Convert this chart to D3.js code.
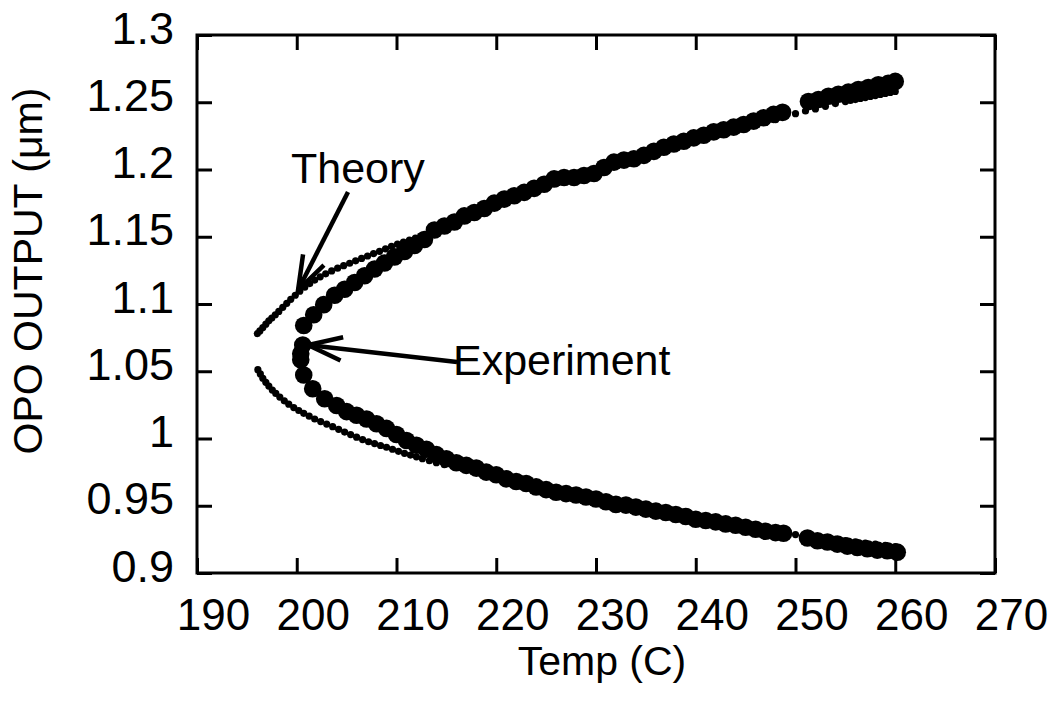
<!DOCTYPE html>
<html><head><meta charset="utf-8">
<script src="https://cdn.jsdelivr.net/npm/d3@7"></script>
<style>
body{margin:0;background:#fff}
svg{display:block;background:#fff}
text{font-family:'Liberation Sans',Arial,Helvetica,sans-serif;fill:#000}
</style>
</head><body>
<svg id="chart" width="1055" height="701"></svg>
<script>
// ---- data ----
const xTicks = [190,200,210,220,230,240,250,260,270];
const yTicks = [0.9,0.95,1,1.05,1.1,1.15,1.2,1.25,1.3];
const yTickLabels = ["0.9","0.95","1","1.05","1.1","1.15","1.2","1.25","1.3"];

// Theory (small dots): [temperature C, wavelength um]
const theoryUpper = [
[196.05,1.078],[196.3,1.080],[196.6,1.0825],[196.9,1.085],[197.2,1.0875],[197.5,1.0895],[197.85,1.092],[198.2,1.0945],
[198.6,1.0975],[199.0,1.1005],[199.4,1.1035],[199.85,1.1065],[200.3,1.1095],[200.8,1.1125],[201.3,1.1152],[201.8,1.1178],
[202.35,1.1202],[202.9,1.1224],[203.5,1.1246],[204.1,1.1266],[204.7,1.1285],[205.3,1.1303],[205.9,1.1321],[206.5,1.1339],
[207.1,1.1357],[207.7,1.1375],[208.3,1.1392],[208.9,1.141],[209.5,1.1428],[210.1,1.1445],[210.7,1.146],[211.3,1.1475],
[211.9,1.149],[212.5,1.1505],[213.1,1.152],[213.8,1.154],[214.5,1.1565],[215.2,1.159],[216,1.161],[217,1.164],[218,1.167],
[219,1.170],[220,1.173],[221,1.176],[222,1.179],[223,1.182],[224,1.1845],[225,1.187],[226,1.1895],[227,1.192],[228,1.1945],
[229,1.197],[230,1.1995],[231,1.202],[232,1.204],[233,1.206],[234,1.2085],[235,1.211],[236,1.213],[237,1.215],[238,1.217],
[239,1.219],[240,1.221],[241,1.223],[242,1.225],[243,1.227],[244,1.229],[245,1.231],[246,1.233],[247,1.235],[248,1.237],
[249,1.2395],[250,1.2415],[251,1.2435],[252,1.245],[253,1.247],[254,1.249],[255,1.2505],[255.5,1.2513],[256,1.252],
[256.5,1.2528],[257,1.2535],[257.5,1.2543],[258,1.255],[258.5,1.2558],[259,1.2565],[259.5,1.2573],[260,1.258]
];
const theoryLower = [
[196.1,1.0512],[196.35,1.048],[196.6,1.0448],[196.9,1.0418],[197.2,1.039],[197.55,1.036],[197.9,1.0335],[198.3,1.0308],
[198.75,1.028],[199.2,1.0255],[199.7,1.023],[200.2,1.0208],[200.7,1.0187],[201.25,1.0166],[201.8,1.0145],[202.4,1.0126],
[203.0,1.0107],[203.6,1.0088],[204.2,1.0068],[204.8,1.0048],[205.4,1.0029],[206.0,1.001],[206.6,0.9992],[207.2,0.9976],
[207.8,0.9962],[208.4,0.9948],[209.0,0.9935],[209.6,0.992],[210.2,0.9905],[210.8,0.989],[211.4,0.9877],[212.0,0.9864],
[212.6,0.985],[213.3,0.9835],[214.0,0.982],[214.8,0.9805],[216,0.979],[217,0.977],[218,0.975],[219,0.9728],[220,0.9707],
[221,0.9687],[222,0.9667],[223,0.9647],[224,0.9628],[225,0.961],[226,0.9592],[227,0.9575],[228,0.9558],[229,0.9542],
[230,0.9526],[231,0.951],[232,0.9495],[233,0.948],[234,0.9466],[235,0.9452],[236,0.9438],[237,0.9425],[238,0.9412],
[239,0.940],[240,0.9388],[241,0.9376],[242,0.9365],[243,0.9354],[244,0.9343],[245,0.9333],[246,0.9323],[247,0.9313],
[248,0.9304],[249,0.9295],[250,0.9286],[251,0.9277],[252,0.9268],[253,0.9259],[254,0.925],[255,0.9241],[256,0.9232],
[257,0.9223],[258,0.9214],[259,0.9205],[260,0.9197]
];

// Experiment (large dots): [temperature C, wavelength um]
const experimentUpper = [
[200.7,1.084],[201.7,1.092],[202.7,1.0995],[203.8,1.1065],[204.8,1.111],[205.8,1.116],[206.8,1.121],[207.8,1.126],
[208.8,1.1305],[209.8,1.135],[210.8,1.139],[211.8,1.1435],[212.8,1.148],[213.8,1.155],[214.8,1.158],[215.8,1.161],
[216.8,1.1655],[217.8,1.168],[218.8,1.171],[219.8,1.175],[220.8,1.178],[221.8,1.1805],[222.8,1.183],[223.8,1.186],
[224.8,1.189],[225.8,1.193],[226.8,1.194],[227.8,1.194],[228.8,1.1955],[229.8,1.197],[230.8,1.2015],[231.8,1.2055],
[232.8,1.207],[233.8,1.208],[234.8,1.2105],[235.8,1.2135],[236.8,1.2165],[237.8,1.219],[238.8,1.221],[239.8,1.2235],
[240.8,1.2255],[241.8,1.228],[242.8,1.2295],[243.8,1.2315],[244.8,1.2335],[245.8,1.236],[246.8,1.2385],[247.8,1.241],
[248.7,1.2425],[251.3,1.2505],[252.3,1.252],[253.3,1.2545],[254.3,1.256],[255.3,1.2575],[256.3,1.2595],[257.3,1.261],
[258.3,1.263],[259.3,1.264],[260.0,1.2655]
];
const experimentLower = [
[200.6,1.0695],[200.4,1.063],[200.4,1.0585],[200.7,1.0472],[201.6,1.037],[202.8,1.0296],[204.0,1.0245],[205.0,1.020],
[206.0,1.0173],[207.0,1.0145],[208.0,1.011],[209.0,1.0075],[210.0,1.003],[211.0,0.9985],[212.0,0.995],[213.0,0.992],
[214.0,0.988],[215.0,0.985],[216.0,0.982],[217.0,0.980],[218.0,0.978],[219.0,0.975],[220.0,0.973],[221.0,0.970],
[222.0,0.968],[223.0,0.9665],[224.0,0.964],[225.0,0.962],[226.0,0.960],[227.0,0.959],[228.0,0.958],[229.0,0.9565],
[230.0,0.955],[231.0,0.953],[232.0,0.951],[233.0,0.9505],[234.0,0.949],[235.0,0.9475],[236.0,0.946],[237.0,0.945],
[238.0,0.9435],[239.0,0.942],[240.0,0.940],[241.0,0.939],[242.0,0.938],[243.0,0.9365],[244.0,0.9355],[245.0,0.934],
[246.0,0.9325],[247.0,0.931],[248.0,0.930],[248.8,0.9295],[251.2,0.926],[252.2,0.924],[253.2,0.923],[254.2,0.9215],
[255.2,0.920],[256.2,0.919],[257.2,0.918],[258.2,0.917],[259.2,0.9165],[260.2,0.9155]
];

// annotations (data coordinates)
const theoryNote = {text:"Theory", at:[199.42,1.190], tail:[205.14,1.1833], tip:[200.13,1.1104]};
const experimentNote = {text:"Experiment", at:[215.66,1.0472], tail:[216.07,1.0569], tip:[201.13,1.0695]};

// ---- chart ----
const svg = d3.select("#chart");
const x = d3.scaleLinear().domain([190,270]).range([197,995]);
const y = d3.scaleLinear().domain([0.9,1.3]).range([573,35]);
const FONT = "'Liberation Sans',Arial,Helvetica,sans-serif";

// data
const plot = svg.append("g");
plot.selectAll("circle.theory").data(theoryUpper.concat(theoryLower)).join("circle")
  .attr("class","theory").attr("cx",d=>x(d[0])).attr("cy",d=>y(d[1])).attr("r",3.6).attr("fill","#000");
plot.selectAll("circle.exp").data(experimentUpper.concat(experimentLower)).join("circle")
  .attr("class","exp").attr("cx",d=>x(d[0])).attr("cy",d=>y(d[1])).attr("r",8.8).attr("fill","#000");

// axes
function styleAxis(g){
  g.attr("font-family",null).attr("font-size",null);
  g.select(".domain").remove();
  g.selectAll(".tick line").attr("stroke","#000").attr("stroke-width",3);
}
const gb = svg.append("g").attr("transform","translate(0,573)")
  .call(d3.axisBottom(x).tickValues(xTicks).tickSizeInner(-15).tickSizeOuter(0).tickFormat(d3.format("d")));
styleAxis(gb);
gb.selectAll("text").attr("y",57).attr("dy",null).attr("x",16)
  .style("font-size","44px").style("font-family",FONT).attr("fill","#000");

const gl = svg.append("g").attr("transform","translate(197,0)")
  .call(d3.axisLeft(y).tickValues(yTicks).tickSizeInner(-15).tickSizeOuter(0).tickFormat((d,i)=>yTickLabels[i]));
styleAxis(gl);
gl.selectAll("text").attr("x",-23).attr("y",8).attr("dy",null).attr("text-anchor","end")
  .style("font-size","45px").style("font-family",FONT).attr("fill","#000");

const gt = svg.append("g").attr("transform","translate(0,35)")
  .call(d3.axisTop(x).tickValues(xTicks).tickSizeInner(-15).tickSizeOuter(0).tickFormat(""));
styleAxis(gt);
const gr = svg.append("g").attr("transform","translate(995,0)")
  .call(d3.axisRight(y).tickValues(yTicks).tickSizeInner(-15).tickSizeOuter(0).tickFormat(""));
styleAxis(gr);

svg.append("rect").attr("x",x(190)).attr("y",y(1.3)).attr("width",x(270)-x(190)).attr("height",y(0.9)-y(1.3))
  .attr("fill","none").attr("stroke","#000").attr("stroke-width",3);

// titles
svg.append("text").attr("x",(x(190)+x(270))/2+6).attr("y",675).attr("text-anchor","middle")
  .style("font-size","41px").style("font-family",FONT).text("Temp (C)");
svg.append("text").attr("transform","translate(42,271) rotate(-90)").attr("text-anchor","middle")
  .style("font-size","41px").style("font-family",FONT).text("OPO OUTPUT (\u03bcm)");

// annotations
function arrow(note){
  const tx=x(note.tip[0]), ty=y(note.tip[1]), sx=x(note.tail[0]), sy=y(note.tail[1]);
  const a=Math.atan2(sy-ty, sx-tx), L=36, h=19*Math.PI/180;
  const g=svg.append("g").attr("stroke","#000").attr("stroke-width",4.5).attr("stroke-linecap","butt").attr("fill","none");
  g.append("line").attr("x1",sx).attr("y1",sy).attr("x2",tx).attr("y2",ty);
  g.append("path").attr("d",`M${tx+L*Math.cos(a+h)},${ty+L*Math.sin(a+h)}L${tx},${ty}L${tx+L*Math.cos(a-h)},${ty+L*Math.sin(a-h)}`)
    .attr("stroke-linejoin","miter");
  svg.append("text").attr("x",x(note.at[0])).attr("y",y(note.at[1]))
    .style("font-size","43px").style("font-family",FONT).text(note.text);
}
arrow(theoryNote);
arrow(experimentNote);
</script>
</body></html>
